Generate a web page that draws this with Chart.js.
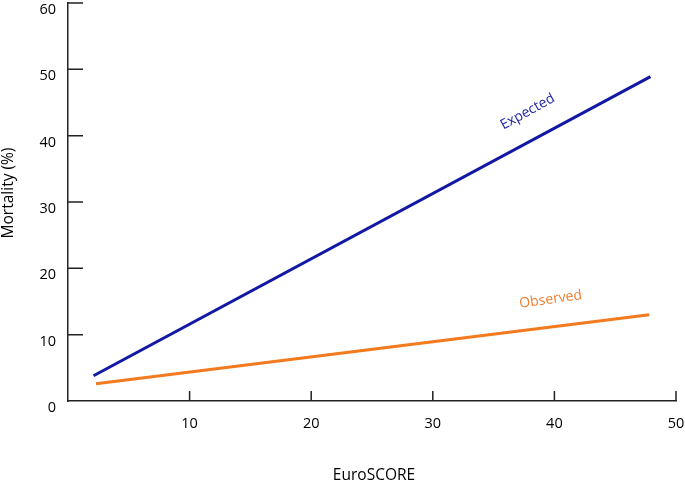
<!DOCTYPE html>
<html>
<head>
<meta charset="utf-8">
<script src="https://cdn.jsdelivr.net/npm/chart.js@4/dist/chart.umd.min.js"></script>
<style>
  html, body { margin: 0; padding: 0; background: #fff; }
  #wrap { width: 685px; height: 489px; }
</style>
</head>
<body>
<div id="wrap"><canvas id="mortalityChart"></canvas></div>
<script>
// values
const expectedScore = [2.1, 47.9];
const expectedMortality = [3.8, 48.9];
const observedScore = [2.3, 47.8];
const observedMortality = [2.6, 13.0];
const xTicks = [10, 20, 30, 40, 50];
const yTicks = [0, 10, 20, 30, 40, 50, 60];

const FONT = '"Open Sans", "DejaVu Sans", sans-serif';
const AXIS_COLOR = '#222';
const BLUE = '#1218a4';
const ORANGE = '#f27a1f';

function toPoints(xs, ys) {
    return xs.map((x, i) => ({ x: x, y: ys[i] }));
}

// line labels sit along the lines, in data units
const lineLabels = [
    { text: 'Expected', x: 37.8, y: 43.6, angle: -29, color: '#1f24a8' },
    { text: 'Observed', x: 39.7, y: 15.3, angle: -8, color: '#f07d2c' }
];

// ticks point inward in the reference, so draw them by hand from the scales
const innerTicks = {
    id: 'innerTicks',
    afterDraw(chart) {
        const ctx = chart.ctx;
        const xs = chart.scales.x;
        const ys = chart.scales.y;
        ctx.save();
        ctx.strokeStyle = AXIS_COLOR;
        ctx.lineWidth = 1.5;
        ctx.beginPath();
        xTicks.forEach(v => {
            const px = xs.getPixelForValue(v);
            ctx.moveTo(px, ys.bottom);
            ctx.lineTo(px, ys.bottom - 10);
        });
        yTicks.filter(v => v > 0).forEach(v => {
            const py = ys.getPixelForValue(v);
            ctx.moveTo(xs.left, py);
            ctx.lineTo(xs.left + 15, py);
        });
        ctx.stroke();

        ctx.font = '14px ' + FONT;
        ctx.textAlign = 'center';
        ctx.textBaseline = 'middle';
        lineLabels.forEach(l => {
            ctx.save();
            ctx.translate(xs.getPixelForValue(l.x), ys.getPixelForValue(l.y));
            ctx.rotate(l.angle * Math.PI / 180);
            ctx.fillStyle = l.color;
            ctx.fillText(l.text, 0, 0);
            ctx.restore();
        });

        // axis titles
        ctx.fillStyle = '#000';
        ctx.font = '15.5px ' + FONT;
        ctx.fillText('EuroSCORE', (xs.left + xs.right) / 2 + 2, 476);
        ctx.save();
        ctx.translate(9, 193);
        ctx.rotate(-Math.PI / 2);
        ctx.fillText('Mortality (%)', 0, 0);
        ctx.restore();
        ctx.restore();
    }
};

const ctx = document.getElementById('mortalityChart').getContext('2d');
const chart = new Chart(ctx, {
    type: 'scatter',
    data: {
        datasets: [
            {
                label: 'Expected',
                data: toPoints(expectedScore, expectedMortality),
                showLine: true,
                borderColor: BLUE,
                borderWidth: 3,
                pointRadius: 0,
                fill: false
            },
            {
                label: 'Observed',
                data: toPoints(observedScore, observedMortality),
                showLine: true,
                borderColor: ORANGE,
                borderWidth: 3,
                pointRadius: 0,
                fill: false
            }
        ]
    },
    options: {
        responsive: true,
        maintainAspectRatio: false,
        animation: false,
        layout: { padding: { top: 3, right: 9, left: 0, bottom: 0 } },
        plugins: {
            legend: { display: false },
            tooltip: { enabled: false }
        },
        scales: {
            x: {
                type: 'linear',
                min: 0,
                max: 50,
                afterFit: s => {
                    s.height = 88;
                    s.paddingLeft = 0;
                    s.paddingRight = 0;
                },
                afterBuildTicks: s => { s.ticks = xTicks.map(v => ({ value: v })); },
                grid: { display: false, drawTicks: false },
                border: { display: true, color: AXIS_COLOR, width: 1.5 },
                ticks: {
                    color: '#000',
                    padding: 14,
                    font: { family: FONT, size: 14.5 }
                }
            },
            y: {
                type: 'linear',
                min: 0,
                max: 60,
                afterFit: s => {
                    s.width = 68;
                    s.paddingTop = 0;
                    s.paddingBottom = 0;
                },
                afterBuildTicks: s => { s.ticks = yTicks.map(v => ({ value: v })); },
                grid: { display: false, drawTicks: false },
                border: { display: true, color: AXIS_COLOR, width: 1.5 },
                ticks: {
                    color: '#000',
                    padding: 12,
                    labelOffset: 7,
                    font: { family: FONT, size: 14.5 }
                }
            }
        }
    },
    plugins: [innerTicks]
});
</script>
</body>
</html>
